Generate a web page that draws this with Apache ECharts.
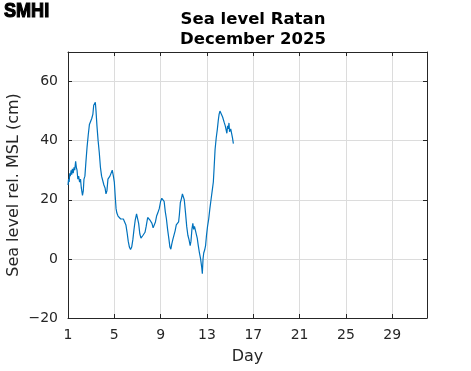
<!DOCTYPE html>
<html><head><meta charset="utf-8">
<script src="https://cdn.jsdelivr.net/npm/echarts@6/dist/echarts.min.js"></script>
<style>html,body{margin:0;padding:0;background:#fff}#c{width:471px;height:371px}</style>
</head><body><div id="c"></div>
<script>
const titleLines = ['Sea level Ratan', 'December 2025'];
const xTickLabels = [1, 5, 9, 13, 17, 21, 25, 29];
const yTickLabels = [-20, 0, 20, 40, 60];
const days = [1.00,1.05,1.10,1.15,1.20,1.27,1.32,1.38,1.45,1.52,1.58,1.66,1.72,1.78,1.85,1.92,2.00,2.08,2.15,2.25,2.32,2.38,2.46,2.55,2.65,2.75,2.85,2.95,3.05,3.15,3.22,3.30,3.36,3.42,3.50,3.60,3.70,3.80,3.90,4.00,4.10,4.20,4.28,4.36,4.45,4.52,4.62,4.72,4.82,4.92,5.00,5.08,5.15,5.22,5.32,5.45,5.55,5.62,5.68,5.78,5.90,6.00,6.10,6.20,6.30,6.40,6.50,6.60,6.70,6.80,6.92,7.02,7.10,7.20,7.30,7.40,7.48,7.56,7.65,7.75,7.88,8.00,8.10,8.25,8.35,8.45,8.55,8.65,8.75,8.88,9.00,9.10,9.20,9.30,9.40,9.50,9.60,9.72,9.80,9.88,9.96,10.05,10.15,10.25,10.35,10.45,10.55,10.62,10.70,10.80,10.88,10.96,11.04,11.15,11.25,11.35,11.45,11.55,11.62,11.70,11.78,11.85,11.92,12.00,12.08,12.16,12.25,12.35,12.45,12.55,12.60,12.66,12.72,12.80,12.88,12.96,13.05,13.15,13.25,13.35,13.45,13.55,13.62,13.70,13.80,13.90,13.98,14.05,14.12,14.20,14.28,14.35,14.42,14.50,14.58,14.65,14.72,14.78,14.85,14.90,14.95,15.00,15.05,15.12,15.20,15.28];
const levels = [25,27,26,29,28,30,28.5,30.5,29,31,30,33,31,30,27,28,26,27,24,21.5,23,27,28,33,38,42,45.5,46.5,47.5,49,52,51.5,53,50,45,40,36,31,28,27.5,25,24,22,23,27,26.5,28,28.5,30,28,26,21,17,15.5,14.5,14,13.5,14,13,13.5,13,11.5,9,6,4,3.2,4,6.5,10,13,15.2,14.8,12,8.5,7,6.5,8,7.5,9,11,14,14,13,12,10.5,10.8,12.5,14.5,15.5,17,19.5,20.5,21,19.5,16,13.5,10,6.5,4,3.3,5,6.5,7,9.5,11.5,12,12.5,15,19,20.5,22,21.5,20,15.5,11,8,6.5,4.5,6,10,12,10,11,10.5,11,7,4.5,2,0,-3,-5,0,2,3,4.5,8,11,13.5,17,20,23,26,31,37,41,44,47,49,50,49.5,49.8,48,47.5,46,45,44.5,42.5,45,44,46,43,43.5,44,43.5,41,39];

const X0 = 1; // first day; axis internally counts from 0 so ticks land on 1,5,9,...
const seriesData = days.map((d, i) => [d - X0, levels[i]]);
const font = 'DejaVu Sans';
const chart = echarts.init(document.getElementById('c'), null, {renderer: 'canvas'});
chart.setOption({
  animation: false,
  backgroundColor: '#fff',
  title: {
    text: titleLines.join('\n'),
    left: 248, top: 5, textAlign: 'center',
    textStyle: {fontFamily: font, fontWeight: 'bold', fontSize: 16.5, color: '#000', lineHeight: 20}
  },
  graphic: [{
    type: 'text', x: 4, y: 1, scaleX: 0.86,
    style: {text: 'SMHI', fontFamily: 'Liberation Sans', fontWeight: 'bold', fontSize: 21,
      fill: '#000', stroke: '#000', lineWidth: 1.2}
  }],
  grid: {left: 68, top: 52, right: 44, bottom: 53, show: false, containLabel: false, outerBoundsMode: 'none'},
  xAxis: [{
    type: 'value', min: 0, max: 31, interval: 4,
    name: 'Day', nameLocation: 'middle', nameGap: 31, nameMoveOverlap: false,
    nameTextStyle: {fontFamily: font, fontSize: 16, color: '#262626'},
    axisLine: {show: true, onZero: false, lineStyle: {color: '#262626', width: 1}},
    axisTick: {show: true, inside: true, length: 4, lineStyle: {color: '#262626'}},
    axisLabel: {margin: 10, fontFamily: font, fontSize: 14, color: '#262626',
      formatter: v => (xTickLabels.includes(v + X0) ? String(v + X0) : '')},
    splitLine: {show: true, lineStyle: {color: '#dcdcdc', width: 1}}
  }, {
    type: 'value', min: 0, max: 31, interval: 4, position: 'top',
    axisLine: {show: true, onZero: false, lineStyle: {color: '#262626', width: 1}},
    axisTick: {show: true, inside: true, length: 4, lineStyle: {color: '#262626'}},
    axisLabel: {show: false}, splitLine: {show: false}
  }],
  yAxis: [{
    type: 'value', min: -20, max: 70, interval: 20,
    name: 'Sea level rel. MSL (cm)', nameLocation: 'middle', nameGap: 46, nameMoveOverlap: false,
    nameTextStyle: {fontFamily: font, fontSize: 16, color: '#262626'},
    axisLine: {show: true, onZero: false, lineStyle: {color: '#262626', width: 1}},
    axisTick: {show: true, inside: true, length: 4, lineStyle: {color: '#262626'}},
    axisLabel: {margin: 10, fontFamily: font, fontSize: 14, color: '#262626', showMaxLabel: false,
      formatter: v => (yTickLabels.includes(v) ? String(v).replace('-', '\u2212') : '')},
    splitLine: {show: true, lineStyle: {color: '#dcdcdc', width: 1}}
  }, {
    type: 'value', min: -20, max: 70, interval: 20, position: 'right',
    axisLine: {show: true, onZero: false, lineStyle: {color: '#262626', width: 1}},
    axisTick: {show: true, inside: true, length: 4, lineStyle: {color: '#262626'}},
    axisLabel: {show: false}, splitLine: {show: false}
  }],
  series: [{
    type: 'line', data: seriesData, showSymbol: false, symbol: 'none',
    lineStyle: {color: '#0072BD', width: 1.2}, xAxisIndex: 0, yAxisIndex: 0
  }]
});
</script></body></html>
